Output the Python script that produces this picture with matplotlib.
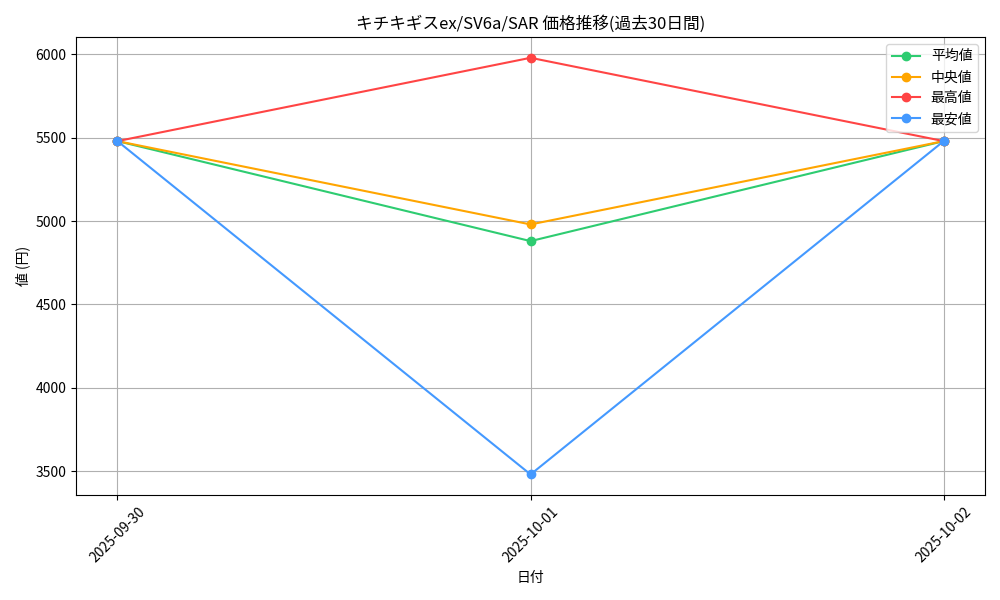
import matplotlib.pyplot as plt
import pandas as pd

plt.rcParams['font.family'] = ['Noto Sans CJK JP', 'DejaVu Sans']

dates = ['2025-09-30', '2025-10-01', '2025-10-02']
avg_price = [5480, 4880, 5480]
median_price = [5480, 4980, 5480]
max_price = [5480, 5980, 5480]
min_price = [5480, 3480, 5480]

x = pd.to_datetime(dates)

fig, ax = plt.subplots(figsize=(10, 6), dpi=100)
ax.plot(x, avg_price, marker='o', color='#2ecc71', label='平均値')
ax.plot(x, median_price, marker='o', color='#ffa500', label='中央値')
ax.plot(x, max_price, marker='o', color='#ff4444', label='最高値')
ax.plot(x, min_price, marker='o', color='#4499ff', label='最安値')

ax.set_xticks(x)
ax.set_xticklabels(dates, rotation=45)
ax.set_title('キチキギスex/SV6a/SAR 価格推移(過去30日間)')
ax.set_xlabel('日付')
ax.set_ylabel('値 (円)')
ax.grid(True)
ax.legend(loc='upper right')

plt.tight_layout()
plt.savefig('out.png', dpi=100)
